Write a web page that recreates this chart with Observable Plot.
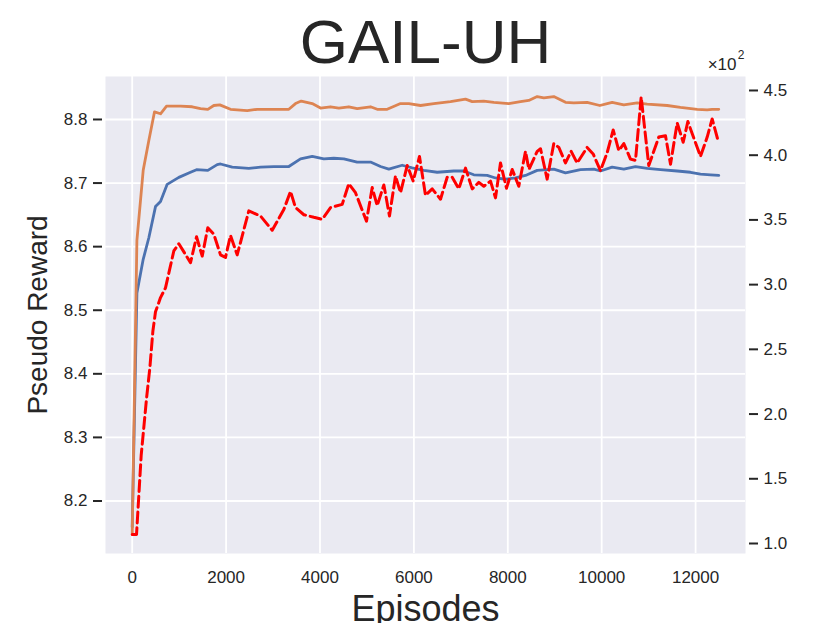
<!DOCTYPE html>
<html><head><meta charset="utf-8">
<script src="https://cdn.jsdelivr.net/npm/d3@7"></script>
<script src="https://cdn.jsdelivr.net/npm/@observablehq/plot@0.6"></script>
<style>body{margin:0;background:#fff;} #chart svg{display:block;}</style>
</head><body><div id="chart"></div>
<script>
// ---- data ----
const xTicks = [0, 2000, 4000, 6000, 8000, 10000, 12000];
const leftTicks = [8.2, 8.3, 8.4, 8.5, 8.6, 8.7, 8.8];
const rightTicks = [1.0, 1.5, 2.0, 2.5, 3.0, 3.5, 4.0, 4.5]; // x10^2

const blueEpisodes = [0,100,234,354,496,603,745,993,1242,1370,1610,1810,1881,2130,2484,2733,3016,3336,3585,3834,4081,4294,4508,4792,5076,5289,5466,5750,5963,6211,6496,6850,7063,7276,7561,7738,7951,8164,8377,8626,8980,9229,9548,9832,9974,10223,10471,10720,10969,11252,11608,11891,12104,12318,12494];
const blueReward = [8.159,8.527,8.58,8.614,8.663,8.671,8.698,8.709,8.717,8.721,8.720,8.729,8.730,8.725,8.723,8.725,8.726,8.726,8.738,8.742,8.738,8.739,8.738,8.733,8.733,8.726,8.722,8.728,8.724,8.720,8.717,8.719,8.719,8.713,8.712,8.708,8.706,8.708,8.712,8.720,8.722,8.716,8.721,8.722,8.719,8.725,8.722,8.726,8.723,8.721,8.719,8.717,8.714,8.713,8.712];

const orangeEpisodes = [0,100,234,354,475,603,731,1029,1278,1455,1610,1738,1866,2093,2449,2662,3016,3336,3478,3600,3834,4011,4224,4401,4614,4792,5076,5218,5431,5715,5892,6141,6424,6780,7099,7242,7489,7702,8021,8270,8447,8626,8768,8980,9229,9406,9690,9960,10117,10223,10471,10756,10969,11395,11678,12034,12247,12353,12494];
const orangeReward = [8.148,8.61,8.72,8.767,8.812,8.809,8.821,8.821,8.820,8.817,8.816,8.822,8.823,8.816,8.814,8.816,8.816,8.816,8.825,8.829,8.825,8.818,8.820,8.818,8.820,8.817,8.820,8.816,8.816,8.825,8.825,8.822,8.825,8.828,8.832,8.828,8.829,8.827,8.825,8.828,8.830,8.836,8.834,8.836,8.827,8.826,8.827,8.822,8.825,8.827,8.823,8.826,8.824,8.822,8.819,8.816,8.815,8.816,8.816];

const redEpisodes = [0,92,191,305,375,440,496,603,709,886,993,1242,1370,1491,1610,1738,1881,1987,2093,2236,2484,2733,2982,3229,3372,3478,3656,3869,4047,4224,4473,4614,4756,4990,5112,5218,5360,5480,5608,5715,5857,5985,6119,6247,6390,6567,6709,6816,6957,7099,7242,7383,7489,7632,7738,7844,7972,8094,8234,8377,8450,8626,8697,8838,8980,9087,9229,9350,9477,9690,9818,9974,10117,10245,10365,10471,10613,10720,10841,11003,11216,11359,11466,11608,11736,11835,12104,12247,12353,12473];
const redReturn = [1.07,1.07,1.68,2.12,2.355,2.64,2.79,2.90,2.975,3.26,3.316,3.17,3.37,3.22,3.44,3.39,3.23,3.21,3.38,3.23,3.57,3.53,3.42,3.58,3.72,3.595,3.54,3.52,3.505,3.595,3.62,3.78,3.71,3.49,3.75,3.61,3.77,3.53,3.84,3.71,3.92,3.80,3.99,3.69,3.74,3.66,3.83,3.83,3.74,3.90,3.74,3.79,3.76,3.80,3.67,3.94,3.745,3.89,3.76,4.03,3.89,4.03,4.05,3.815,4.09,4.06,3.94,4.03,3.94,4.06,4.01,3.88,4.02,4.195,4.035,4.09,3.97,3.96,4.45,3.92,4.14,4.15,3.93,4.25,4.10,4.26,3.99,4.14,4.28,4.12]; // x10^2

// ---- scales ----
const xDomain = [-569, 13063];
const leftDomain = [8.1174, 8.8676];
const rightDomain = [0.9227, 4.608];
const toLeft = r => leftDomain[0] + (r - rightDomain[0]) / (rightDomain[1] - rightDomain[0]) * (leftDomain[1] - leftDomain[0]);
const toRight = y => rightDomain[0] + (y - leftDomain[0]) / (leftDomain[1] - leftDomain[0]) * (rightDomain[1] - rightDomain[0]);

const blue = blueEpisodes.map((e, i) => ({ep: e, v: blueReward[i]}));
const orange = orangeEpisodes.map((e, i) => ({ep: e, v: orangeReward[i]}));
const red = redEpisodes.map((e, i) => ({ep: e, v: toLeft(redReturn[i])}));

const ink = "#262626";
const chart = Plot.plot({
  width: 830, height: 623,
  marginLeft: 105, marginRight: 85, marginTop: 76, marginBottom: 70,
  style: {fontFamily: "'Liberation Sans', Arial, sans-serif", color: ink, background: "white", overflow: "visible"},
  x: {domain: xDomain},
  y: {domain: leftDomain},
  marks: [
    Plot.frame({fill: "#EAEAF2", stroke: "none"}),
    Plot.gridX(xTicks, {stroke: "white", strokeOpacity: 1, strokeWidth: 1.8}),
    Plot.gridY(leftTicks, {stroke: "white", strokeOpacity: 1, strokeWidth: 1.8}),
    Plot.axisX(xTicks, {anchor: "bottom", tickSize: 0, tickPadding: 17, fontSize: 17, tickFormat: d3.format("d"), label: null, color: ink}),
    Plot.axisY(leftTicks, {anchor: "left", tickSize: 9, tickPadding: 6, dx: -3, strokeWidth: 2, fontSize: 17, tickFormat: d3.format(".1f"), label: null, color: ink}),
    Plot.axisY(rightTicks.map(toLeft), {anchor: "right", tickSize: 9, tickPadding: 6, dx: 3, strokeWidth: 2, fontSize: 17, tickFormat: d => toRight(d).toFixed(1), label: null, color: ink}),
    Plot.line(blue, {x: "ep", y: "v", stroke: "#4C72B0", strokeWidth: 2.8}),
    Plot.line(orange, {x: "ep", y: "v", stroke: "#DD8452", strokeWidth: 2.8}),
    Plot.line(red, {x: "ep", y: "v", stroke: "#FF0000", strokeWidth: 3, strokeDasharray: "11,4.8"}),
    Plot.text(["GAIL-UH"], {frameAnchor: "top", dy: -33, fontSize: 62, lineAnchor: "middle", fill: ink, text: d => d}),
    Plot.text(["Episodes"], {frameAnchor: "bottom", dy: 56, fontSize: 36, lineAnchor: "middle", fill: ink, text: d => d}),
    Plot.text(["Pseudo Reward"], {frameAnchor: "left", dx: -67, rotate: -90, fontSize: 28, textAnchor: "middle", lineAnchor: "middle", fill: ink, text: d => d}),
    Plot.text(["×10"], {frameAnchor: "top-right", textAnchor: "end", dx: -9, dy: -12, fontSize: 17, lineAnchor: "middle", fill: ink, text: d => d}),
    Plot.text(["2"], {frameAnchor: "top-right", textAnchor: "end", dx: -1, dy: -21, fontSize: 12, lineAnchor: "middle", fill: ink, text: d => d})
  ]
});
document.getElementById("chart").appendChild(chart);
</script>
</body></html>
